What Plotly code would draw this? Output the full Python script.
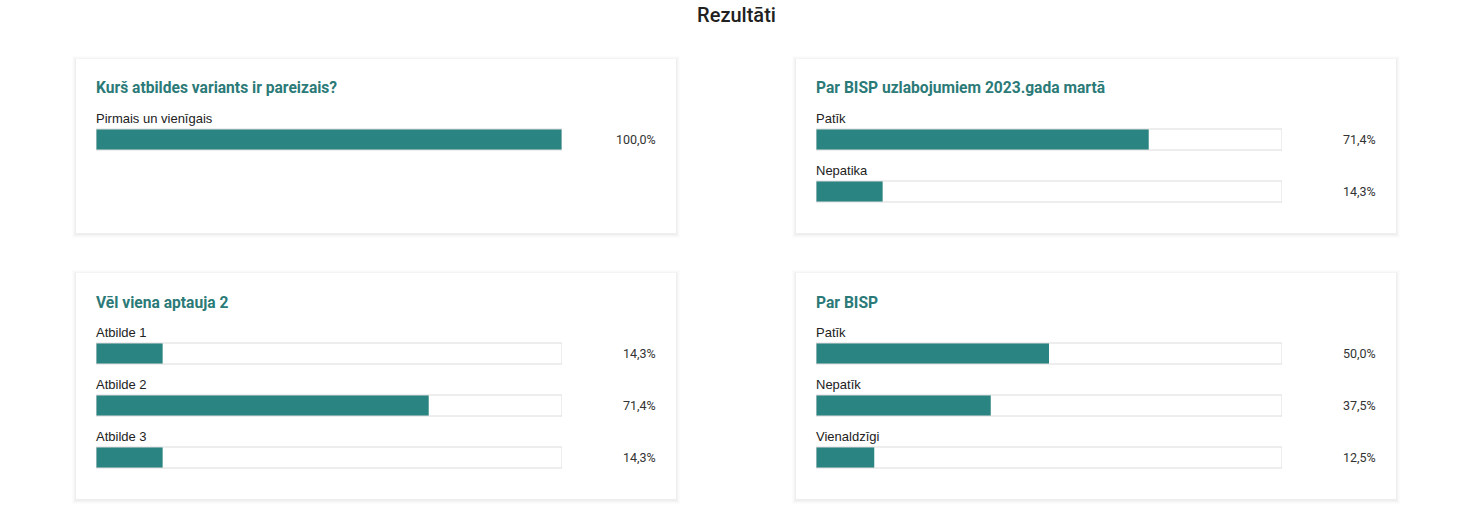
import plotly.graph_objects as go

# ---------------- data ----------------
page_title = "Rezultāti"

q1_title = "Kurš atbildes variants ir pareizais?"
q1_labels = ["Pirmais un vienīgais"]
q1_values = [100.0]

q2_title = "Par BISP uzlabojumiem 2023.gada martā"
q2_labels = ["Patīk", "Nepatika"]
q2_values = [71.4, 14.3]

q3_title = "Vēl viena aptauja 2"
q3_labels = ["Atbilde 1", "Atbilde 2", "Atbilde 3"]
q3_values = [14.3, 71.4, 14.3]

q4_title = "Par BISP"
q4_labels = ["Patīk", "Nepatīk", "Vienaldzīgi"]
q4_values = [50.0, 37.5, 12.5]

# ---------------- layout helpers ----------------
W, H = 1473, 516
def px(x):
    return x / W
def py(y):
    return 1 - y / H

TEAL = "#2a8482"
TITLE_TEAL = "#2b7a78"
TRACK_LINE = "#dcdcdc"
ITEM_STEP = 52
BAR_H = 21

cards = [
    dict(title=q1_title, labels=q1_labels, values=q1_values, x0=76, x1=676, y0=59, y1=233),
    dict(title=q2_title, labels=q2_labels, values=q2_values, x0=796, x1=1396, y0=59, y1=233),
    dict(title=q3_title, labels=q3_labels, values=q3_values, x0=76, x1=676, y0=273, y1=499),
    dict(title=q4_title, labels=q4_labels, values=q4_values, x0=796, x1=1396, y0=273, y1=499),
]

fig = go.Figure()
shapes = []
annotations = []
layout_axes = {}

for k, c in enumerate(cards, start=1):
    # card with soft shadow
    for grow, alpha in [(4, 0.01), (3, 0.013), (2, 0.018), (1, 0.024)]:
        shapes.append(dict(type="rect", xref="paper", yref="paper", layer="below",
                           x0=px(c["x0"] - grow), x1=px(c["x1"] + grow),
                           y0=py(c["y1"] + grow + 1), y1=py(c["y0"] - grow + 1),
                           fillcolor=f"rgba(0,0,0,{alpha})", line=dict(width=0)))
    shapes.append(dict(type="rect", xref="paper", yref="paper", layer="below",
                       x0=px(c["x0"]), x1=px(c["x1"]), y0=py(c["y1"]), y1=py(c["y0"]),
                       fillcolor="white", line=dict(width=0)))

    n = len(c["labels"])
    bx0 = c["x0"] + 20
    bx1 = c["x0"] + 486
    yc0 = c["y0"] + 80.5  # center of first bar
    idx = list(range(n))
    xa = "x" if k == 1 else f"x{k}"
    ya = "y" if k == 1 else f"y{k}"
    width = BAR_H / ITEM_STEP

    fig.add_trace(go.Bar(x=c["values"], y=idx, orientation="h", width=width,
                         marker=dict(color=TEAL, line=dict(width=0)),
                         xaxis=xa, yaxis=ya, hoverinfo="skip", showlegend=False))
    fig.add_trace(go.Bar(x=[100] * n, y=idx, orientation="h", width=width,
                         marker=dict(color="rgba(0,0,0,0)", line=dict(width=1, color=TRACK_LINE)),
                         xaxis=xa, yaxis=ya, hoverinfo="skip", showlegend=False))

    xname = "xaxis" if k == 1 else f"xaxis{k}"
    yname = "yaxis" if k == 1 else f"yaxis{k}"
    layout_axes[xname] = dict(domain=[px(bx0), px(bx1)], range=[0, 100], visible=False,
                              fixedrange=True, anchor=ya)
    layout_axes[yname] = dict(domain=[py(yc0 - ITEM_STEP / 2 + ITEM_STEP * n), py(yc0 - ITEM_STEP / 2)],
                              range=[n - 0.5, -0.5], visible=False, fixedrange=True, anchor=xa)

    # card title
    annotations.append(dict(xref="paper", yref="paper", x=px(c["x0"] + 18), y=py(c["y0"] + 29.5),
                            xanchor="left", yanchor="middle", showarrow=False, text=f"<b>{c['title']}</b>",
                            font=dict(family="Roboto", size=15.6, color=TITLE_TEAL)))
    for i, (lab, v) in enumerate(zip(c["labels"], c["values"])):
        annotations.append(dict(xref=xa, yref=ya, x=0, y=i - 21 / ITEM_STEP,
                                xanchor="left", yanchor="middle", showarrow=False, text=lab,
                                xshift=-2,
                                font=dict(family="Liberation Sans, Arial", size=13, color="#222222")))
        pct = f"{v:.1f}".replace(".", ",") + "%"
        annotations.append(dict(xref=f"{xa} domain", yref=ya, x=(c["x0"] + 581.5 - bx0) / (bx1 - bx0), y=i,
                                xanchor="right", yanchor="middle", showarrow=False, text=pct,
                                font=dict(family="Roboto", size=12.5, color="#333333")))

fig.update_layout(
    width=W, height=H,
    margin=dict(l=0, r=0, t=0, b=0),
    paper_bgcolor="white", plot_bgcolor="rgba(0,0,0,0)",
    barmode="overlay",
    title=dict(text=page_title, x=0.5, xanchor="center", y=py(15), yanchor="middle",
               font=dict(family="Roboto", size=20, color="#212121", weight=500)),
    shapes=shapes, annotations=annotations,
    **layout_axes,
)

fig.write_html("out.html", config={"displayModeBar": False},
               post_script="document.body.style.margin='0';document.body.style.overflow='hidden';")
